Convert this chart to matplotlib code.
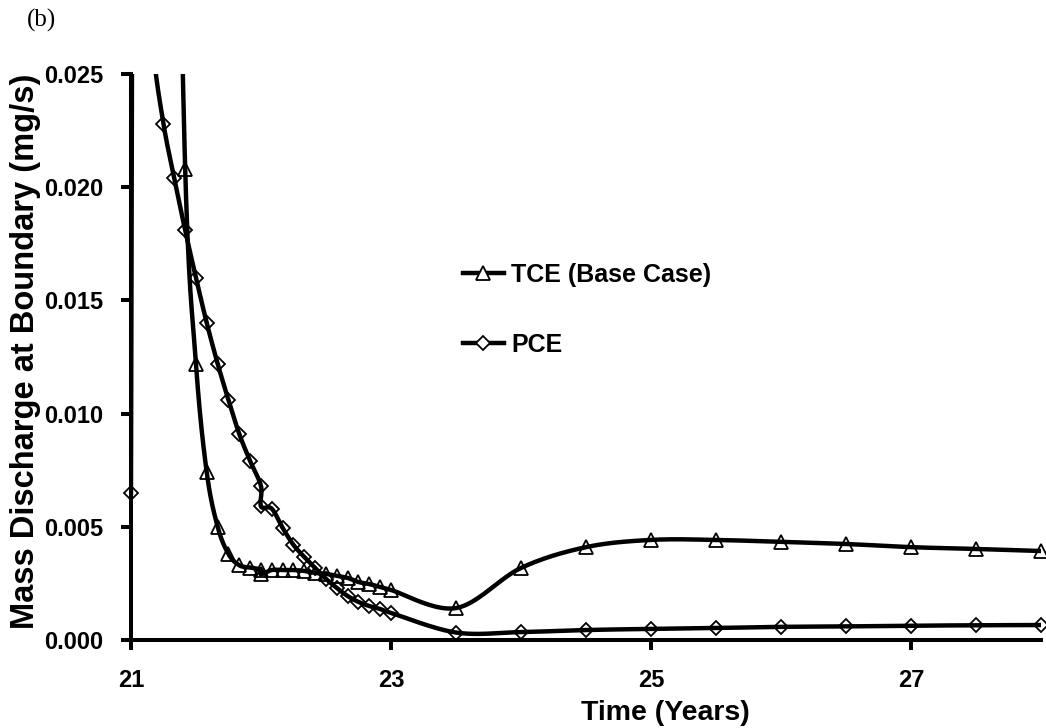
import numpy as np
import matplotlib
matplotlib.use("Agg")
import matplotlib.pyplot as plt
from matplotlib.lines import Line2D

# ---------------- data ----------------
tce_time = [21.333, 21.417, 21.5, 21.583, 21.667, 21.75, 21.833, 21.917, 22.0, 22.0,
            22.083, 22.167, 22.25, 22.333, 22.417, 22.5, 22.583, 22.667, 22.75, 22.833,
            22.917, 23.0, 23.5, 24.0, 24.5, 25.0, 25.5, 26.0, 26.5, 27.0, 27.5, 28.0]
tce_mass = [0.045, 0.0208, 0.0122, 0.0074, 0.0050, 0.0038, 0.0033, 0.0032, 0.0031, 0.0029,
            0.00309, 0.00309, 0.00309, 0.00305, 0.00296, 0.00292, 0.00283, 0.00274, 0.00256, 0.00247,
            0.00234, 0.00221, 0.00141, 0.00318, 0.0041, 0.00442, 0.00442, 0.00433, 0.00424, 0.0041,
            0.00402, 0.00393]

pce_time = [21.0, 21.03, 21.083, 21.167, 21.25, 21.333, 21.417, 21.5, 21.583, 21.667,
            21.75, 21.833, 21.917, 22.0, 22.0, 22.083, 22.167, 22.25, 22.333, 22.417,
            22.5, 22.583, 22.667, 22.75, 22.833, 22.917, 23.0, 23.5, 24.0, 24.5,
            25.0, 25.5, 26.0, 26.5, 27.0, 27.5, 28.0]
pce_mass = [0.0065, 0.06, 0.032, 0.0262, 0.0228, 0.0204, 0.0181, 0.0160, 0.0140, 0.0122,
            0.0106, 0.0091, 0.0079, 0.0068, 0.0059, 0.0058, 0.00495, 0.0042, 0.00367, 0.00318,
            0.0027, 0.0023, 0.00194, 0.00168, 0.0015, 0.00137, 0.0012, 0.00033, 0.00035, 0.00044,
            0.00049, 0.00053, 0.00058, 0.0006, 0.00063, 0.00065, 0.00066]

series_labels = ["TCE (Base Case)", "PCE"]
x_ticks = [21, 23, 25, 27]
y_ticks = [0.000, 0.005, 0.010, 0.015, 0.020, 0.025]
x_label = "Time (Years)"
y_label = "Mass Discharge at Boundary (mg/s)"
panel_tag = "(b)"


def smooth_path(xs, ys, sx, sy, n=24):
    """Excel-like smoothed line (Bezier/Catmull-Rom) drawn through the data points."""
    P = np.column_stack([np.asarray(xs, float) * sx, np.asarray(ys, float) * sy])
    ext = np.vstack([P[0], P, P[-1]])
    t = np.linspace(0, 1, n)[:, None]
    out = []
    for i in range(len(P) - 1):
        p0, p1, p2, p3 = ext[i], ext[i + 1], ext[i + 2], ext[i + 3]
        c1 = p1 + (p2 - p0) / 6.0
        c2 = p2 - (p3 - p1) / 6.0
        seg = (1 - t) ** 3 * p1 + 3 * (1 - t) ** 2 * t * c1 + 3 * (1 - t) * t ** 2 * c2 + t ** 3 * p2
        out.append(seg if i == 0 else seg[1:])
    out = np.vstack(out)
    return out[:, 0] / sx, out[:, 1] / sy


plt.rcParams['font.family'] = ['Liberation Sans', 'DejaVu Sans']
plt.rcParams['font.weight'] = 'bold'

fig = plt.figure(figsize=(10.46, 7.28), dpi=100)
ax = fig.add_axes([0.1252, 0.1209, 0.9952 - 0.1252, 0.8984 - 0.1209])

xlim = (21, 28)
ylim = (0, 0.025)
sx = 910.0 / (xlim[1] - xlim[0])
sy = 566.0 / (ylim[1] - ylim[0])

LW = 3.2
for tt, mm, mk, ms in [(tce_time, tce_mass, '^', 10.5), (pce_time, pce_mass, 'D', 7.5)]:
    xs, ys = smooth_path(tt, mm, sx, sy)
    ax.plot(xs, ys, color='black', lw=LW, solid_joinstyle='round', zorder=2)
    ta = np.asarray(tt)
    ma = np.asarray(mm)
    inside = ma <= ylim[1]
    ax.plot(ta[inside], ma[inside], ls='none', marker=mk, ms=ms, mfc='none', mec='black',
            mew=1.3, zorder=4, clip_on=False)

ax.set_xlim(*xlim)
ax.set_ylim(*ylim)
ax.set_xticks(x_ticks)
ax.set_xticklabels([str(v) for v in x_ticks])
ax.set_yticks(y_ticks)
ax.set_yticklabels([f"{v:.3f}" for v in y_ticks])

for s in ['top', 'right']:
    ax.spines[s].set_visible(False)
for s in ['left', 'bottom']:
    ax.spines[s].set_linewidth(2.9)

ax.tick_params(axis='both', direction='out', length=7, width=2.9, labelsize=17)
ax.tick_params(axis='y', pad=13)
ax.tick_params(axis='x', pad=14)
for lab in ax.get_xticklabels() + ax.get_yticklabels():
    lab.set_fontweight('bold')

ax.set_xlabel(x_label, fontsize=20.5, fontweight='bold')
ax.xaxis.set_label_coords(0.587, -0.106)
ax.set_ylabel(y_label, fontsize=23.5, fontweight='bold', labelpad=2)
ax.yaxis.label.set_y(0.51)

handles = [
    Line2D([], [], color='black', lw=LW, marker='^', ms=10.5, mfc='white', mec='black', mew=1.3),
    Line2D([], [], color='black', lw=LW, marker='D', ms=7.5, mfc='white', mec='black', mew=1.3),
]
leg = ax.legend(handles, series_labels, loc='upper left', bbox_to_anchor=(0.3648, 0.666),
                frameon=False, borderpad=0, borderaxespad=0, handlelength=1.64,
                handletextpad=0.3, labelspacing=1.84,
                prop={'family': 'Liberation Sans', 'weight': 'bold', 'size': 18})

fig.text(27 / 1046, 1 - 20 / 728, panel_tag, family='Liberation Serif', fontsize=18,
         fontweight='normal', ha='left', va='center')

fig.savefig("out.png", dpi=100)
